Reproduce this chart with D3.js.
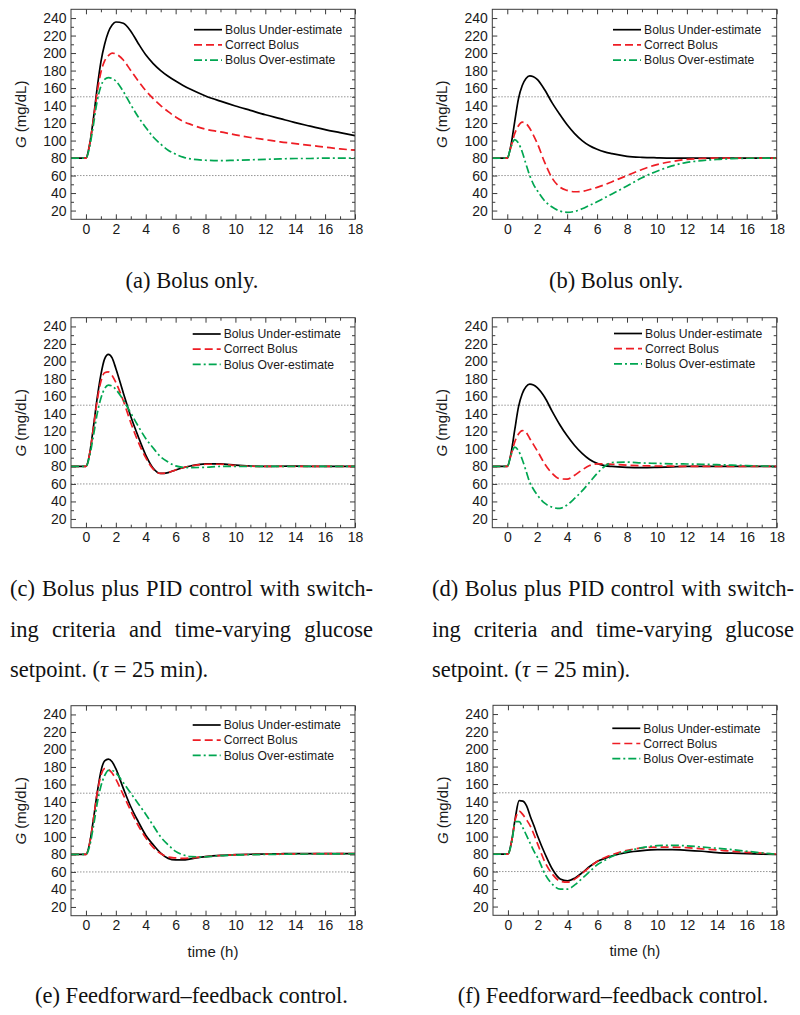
<!DOCTYPE html>
<html>
<head>
<meta charset="utf-8">
<script src="https://cdn.jsdelivr.net/npm/d3@7"></script>
<style>
  body { margin: 0; background: #fff; }
  svg { display: block; }
</style>
</head>
<body>
<script>
// shared time grid (h)
const hours = [-1, 0, 0.25, 0.5, 0.75, 1, 1.25, 1.5, 1.75, 2, 2.5, 3, 3.5, 4, 4.5, 5, 5.5, 6, 6.5, 7, 8, 9, 10, 11, 12, 13, 14, 15, 16, 17, 18]

// (a) bolus only
const underA   = [80, 80, 96, 125, 160, 190, 210, 224, 232, 235.5, 234, 225, 211, 198, 188, 180, 173.5, 168, 163, 158.5, 151, 145, 139.5, 134.5, 129.5, 125, 120.5, 116.5, 112.5, 109, 105.5]
const correctA = [80, 80, 96, 124, 155, 178, 191, 197, 200, 199, 192, 180, 168, 157, 148, 140, 133, 127, 122, 118.5, 113, 110, 106.5, 103.5, 101, 98.5, 96.5, 94.5, 92.5, 90.5, 89]
const overA    = [80, 80, 93, 118, 145, 162, 170, 172, 171, 168, 156, 141, 127, 115, 104, 96, 89, 84.5, 81, 79, 77.5, 77, 77.5, 78, 78.5, 79, 79.5, 79.5, 80, 80, 80]

// (b) bolus only
const underB   = [80, 80, 95, 122, 148, 163, 171, 174, 173, 170, 158, 143, 130, 118, 108, 100, 94, 90, 87, 85, 82, 80.8, 80.3, 80, 80, 80, 80, 80, 80, 80, 80]
const correctB = [80, 80, 93, 108, 117, 121, 119.5, 114, 106, 97, 75, 57, 47, 43, 41.5, 42, 44, 46.5, 49.5, 53, 60, 67, 72.5, 76, 78.5, 79.5, 80, 80, 80, 80, 80]
const overB    = [80, 80, 93, 101, 97, 87, 73, 60, 50, 43, 31, 24, 19.5, 18, 19, 22, 26, 30, 34.5, 39, 48, 57.5, 65, 71, 75, 77, 78.5, 79.3, 79.8, 80, 80]

// (c) bolus + PID
const underC   = [80, 80, 95, 125, 158, 185, 203, 208, 204, 192, 164, 137, 114, 93, 78, 72, 73, 76, 78.5, 80.5, 83, 83, 81.5, 80.5, 80, 80.2, 80.3, 80.2, 80, 80, 80]
const correctC = [80, 80, 95, 124, 155, 177, 187, 188, 184, 176, 155, 130, 108, 90, 77, 72, 73, 76, 78.5, 80.5, 82.5, 82.5, 81, 80.3, 80, 80, 80, 80, 80, 80, 80]
const overC    = [80, 80, 92, 115, 140, 158, 169, 173, 172, 168, 156, 141, 126, 112, 101, 91, 85, 80.6, 79, 78.7, 79, 80, 80, 80, 80, 80, 80, 80, 80, 80, 80]

// (d) bolus + PID
const underD   = [80, 80, 95, 122, 148, 163, 171, 174, 173, 170, 159, 143, 128, 115, 104, 95, 88, 83.5, 81, 80, 79, 78.7, 79, 79.5, 80, 80, 80, 80, 80, 80, 80]
const correctD = [80, 80, 93, 108, 117, 121, 119, 112, 105, 98, 83, 72, 66, 65.5, 70, 76, 81, 83, 83, 82.5, 81.5, 80.8, 80.5, 80.3, 80, 80, 80, 80, 80, 80, 80]
const overD    = [80, 80, 93, 102, 98, 88, 75, 62, 54, 47.5, 38, 33.5, 32, 36, 43.5, 52, 62, 72, 80, 84.5, 85, 84, 83.5, 83, 82.8, 82.5, 82, 81.5, 81, 80.5, 80]

// (e) feedforward-feedback
const underE   = [80, 80, 93, 120, 150, 175, 187, 189, 186, 178, 155.5, 134.5, 117.5, 102, 91, 81.5, 75.5, 73.7, 73.7, 75, 77.5, 79, 79.7, 80.2, 80.5, 80.8, 81, 81, 81, 81, 81]
const correctE = [80, 80, 93, 120, 150, 170, 178, 177, 173, 166, 148, 130, 113, 99, 88, 81, 77, 76, 75.5, 76, 77.5, 78.8, 79.5, 80, 80.3, 80.5, 80.7, 80.8, 81, 81, 81]
const overE    = [80, 80, 90, 112, 138, 158, 170, 176, 176, 173, 162, 150, 138, 126, 113, 100, 91, 83.5, 79.5, 77.5, 77.3, 78.6, 79.3, 79.7, 80, 80.2, 80.4, 80.5, 80.6, 80.7, 80.8]

// (f) feedforward-feedback
const underF   = [80, 80, 95, 122, 141, 140.5, 135, 123, 112, 100, 79.5, 62, 51.5, 49.3, 52.7, 59, 66, 71.7, 75, 78, 82, 84, 85, 85, 84.3, 83.2, 81.7, 81, 80.5, 80, 79.5]
const correctF = [80, 80, 95, 120, 129, 125, 119, 112, 102, 91, 70, 56.5, 49, 47.8, 51.6, 58.4, 65.3, 71.7, 76, 79.4, 84.3, 87, 88, 88, 87.3, 86, 84.7, 83.2, 82, 81, 80]
const overF    = [80, 80, 93, 117, 117, 110, 101, 92, 83, 75.6, 56.5, 45, 40, 40, 45, 52.7, 60.3, 68, 73, 77.5, 83.2, 87.3, 89.6, 90, 89.3, 88, 86.6, 85, 83.2, 81.3, 79.8]

const seriesNames = ["Bolus Under-estimate", "Correct Bolus", "Bolus Over-estimate"]
const xTicks = [0, 2, 4, 6, 8, 10, 12, 14, 16, 18]
const xMinor = [1, 3, 5, 7, 9, 11, 13, 15, 17]
const yTicks = [20, 40, 60, 80, 100, 120, 140, 160, 180, 200, 220, 240]
const yMinor = [30, 50, 70, 90, 110, 130, 150, 170, 190, 210, 230]
const limitLines = [150, 60]

const colors = ["#000000", "#ee1d24", "#00a651"]
const dashes = [null, "8,4", "8,3,2,3"]

const svg = d3.select("body").append("svg")
  .attr("width", 800)
  .attr("height", 1015)

const panels = [
  { series: [underA, correctA, overA], left: 71, right: 355, top: 9.3, leg: { x: 194, y: 29.7 }, timeLabel: false },
  { series: [underB, correctB, overB], left: 492.3, right: 776.7, top: 9.3, leg: { x: 613, y: 29.7 }, timeLabel: false },
  { series: [underC, correctC, overC], left: 71, right: 355, top: 317.7, leg: { x: 192.7, y: 334 }, timeLabel: false },
  { series: [underD, correctD, overD], left: 492.3, right: 776.7, top: 317.7, leg: { x: 614, y: 333.5 }, timeLabel: false },
  { series: [underE, correctE, overE], left: 71, right: 355, top: 705.7, leg: { x: 192.7, y: 725 }, timeLabel: true },
  { series: [underF, correctF, overF], left: 493, right: 776.7, top: 705.3, leg: { x: 612.3, y: 728.3 }, timeLabel: true }
]
const plotH = 210

panels.forEach((p, i) => {
  const w = p.right - p.left
  const g = svg.append("g").attr("transform", `translate(${p.left}, ${p.top})`)

  const x = d3.scaleLinear().domain([-1, 18]).range([0, w])
  const y = d3.scaleLinear().domain([10, 250]).range([plotH, 0])

  g.append("clipPath").attr("id", "clip" + i)
    .append("rect").attr("width", w).attr("height", plotH)

  // dotted hypo / hyper limits
  g.selectAll(".limit").data(limitLines).enter().append("line")
    .attr("x1", 0).attr("x2", w)
    .attr("y1", d => y(d)).attr("y2", d => y(d))
    .attr("stroke", "#8a8a8a").attr("stroke-width", 0.9)
    .attr("stroke-dasharray", "1.5,1.5")

  // axes, ticks pointing inward
  g.append("g").attr("transform", `translate(0, ${plotH})`)
    .call(d3.axisBottom(x).tickValues(xTicks).tickSize(-5).tickSizeOuter(0).tickPadding(4.5))
  g.append("g").attr("transform", `translate(0, ${plotH})`)
    .call(d3.axisBottom(x).tickValues(xMinor).tickSize(-3).tickSizeOuter(0).tickFormat(""))
  g.append("g").call(d3.axisTop(x).tickValues(xTicks).tickSize(-5).tickSizeOuter(0).tickFormat(""))
  g.append("g").call(d3.axisTop(x).tickValues(xMinor).tickSize(-3).tickSizeOuter(0).tickFormat(""))

  g.append("g")
    .call(d3.axisLeft(y).tickValues(yTicks).tickSize(-5).tickSizeOuter(0).tickPadding(4.5))
  g.append("g").call(d3.axisLeft(y).tickValues(yMinor).tickSize(-3).tickSizeOuter(0).tickFormat(""))
  g.append("g").attr("transform", `translate(${w}, 0)`)
    .call(d3.axisRight(y).tickValues(yTicks).tickSize(-5).tickSizeOuter(0).tickFormat(""))
  g.append("g").attr("transform", `translate(${w}, 0)`)
    .call(d3.axisRight(y).tickValues(yMinor).tickSize(-3).tickSizeOuter(0).tickFormat(""))

  g.selectAll(".domain").remove()
  g.selectAll(".tick line").attr("stroke", "#3a3a3a")
  g.selectAll(".tick text")
    .attr("font-family", "'Liberation Sans', Arial, sans-serif")
    .attr("font-size", 14)
    .attr("fill", "#1a1a1a")

  // curves
  const line = d3.line()
    .x((d, k) => x(hours[k]))
    .y(d => y(d))
    .curve(d3.curveMonotoneX)

  g.append("g").attr("clip-path", `url(#clip${i})`)
    .selectAll("path").data(p.series).enter().append("path")
    .attr("d", d => line(d))
    .attr("fill", "none")
    .attr("stroke", (d, k) => colors[k])
    .attr("stroke-width", 1.7)
    .attr("stroke-dasharray", (d, k) => dashes[k])

  // frame
  g.append("rect").attr("width", w).attr("height", plotH)
    .attr("fill", "none").attr("stroke", "#3a3a3a").attr("stroke-width", 1)

  // legend
  const leg = g.selectAll(".leg").data(seriesNames).enter().append("g")
    .attr("transform", (d, k) => `translate(${p.leg.x - p.left}, ${p.leg.y - p.top + k * 15.2})`)
  leg.append("line")
    .attr("x1", 0).attr("x2", 28)
    .attr("stroke", (d, k) => colors[k])
    .attr("stroke-width", 1.7)
    .attr("stroke-dasharray", (d, k) => dashes[k])
  leg.append("text")
    .attr("x", 31).attr("dy", "0.35em")
    .attr("font-family", "'Liberation Sans', Arial, sans-serif")
    .attr("font-size", 12.2)
    .attr("fill", "#1a1a1a")
    .text(d => d)

  // y label
  const yl = g.append("text")
    .attr("transform", `translate(-45, ${plotH / 2}) rotate(-90)`)
    .attr("text-anchor", "middle")
    .attr("font-family", "'Liberation Sans', Arial, sans-serif")
    .attr("font-size", 15)
    .attr("fill", "#1a1a1a")
  yl.append("tspan").attr("font-style", "italic").text("G")
  yl.append("tspan").text(" (mg/dL)")

  if (p.timeLabel) {
    g.append("text")
      .attr("x", w / 2).attr("y", plotH + 41)
      .attr("text-anchor", "middle")
      .attr("font-family", "'Liberation Sans', Arial, sans-serif")
      .attr("font-size", 15)
      .attr("fill", "#1a1a1a")
      .text("time (h)")
  }
})

// sub-figure captions
const capFont = "'Liberation Serif', 'Times New Roman', serif"
const captions = [
  { text: "(a) Bolus only.", x: 192, y: 288, anchor: "middle" },
  { text: "(b) Bolus only.", x: 616, y: 288, anchor: "middle" },
  { text: "(c) Bolus plus PID control with switch-", x: 10, y: 596, justify: 363 },
  { text: "ing criteria and time-varying glucose", x: 10, y: 636.5, justify: 363 },
  { text: "setpoint. (|τ| = 25 min).", x: 10, y: 677 },
  { text: "(d) Bolus plus PID control with switch-", x: 432, y: 596, justify: 362 },
  { text: "ing criteria and time-varying glucose", x: 432, y: 636.5, justify: 362 },
  { text: "setpoint. (|τ| = 25 min).", x: 432, y: 677 },
  { text: "(e) Feedforward–feedback control.", x: 191.5, y: 1003, anchor: "middle" },
  { text: "(f) Feedforward–feedback control.", x: 613, y: 1003, anchor: "middle" }
]

captions.forEach(c => {
  const t = svg.append("text")
    .attr("x", c.x).attr("y", c.y)
    .attr("text-anchor", c.anchor || "start")
    .attr("font-family", capFont)
    .attr("font-size", 22.5)
    .attr("fill", "#111")
  // parts between | | are set in italic (math)
  c.text.split("|").forEach((s, k) => {
    t.append("tspan").attr("font-style", k % 2 ? "italic" : null).text(s)
  })
  if (c.justify) {
    const natural = t.node().getComputedTextLength()
    const gaps = c.text.split(" ").length - 1
    t.attr("word-spacing", (c.justify - natural) / gaps)
  }
})
</script>
</body>
</html>
